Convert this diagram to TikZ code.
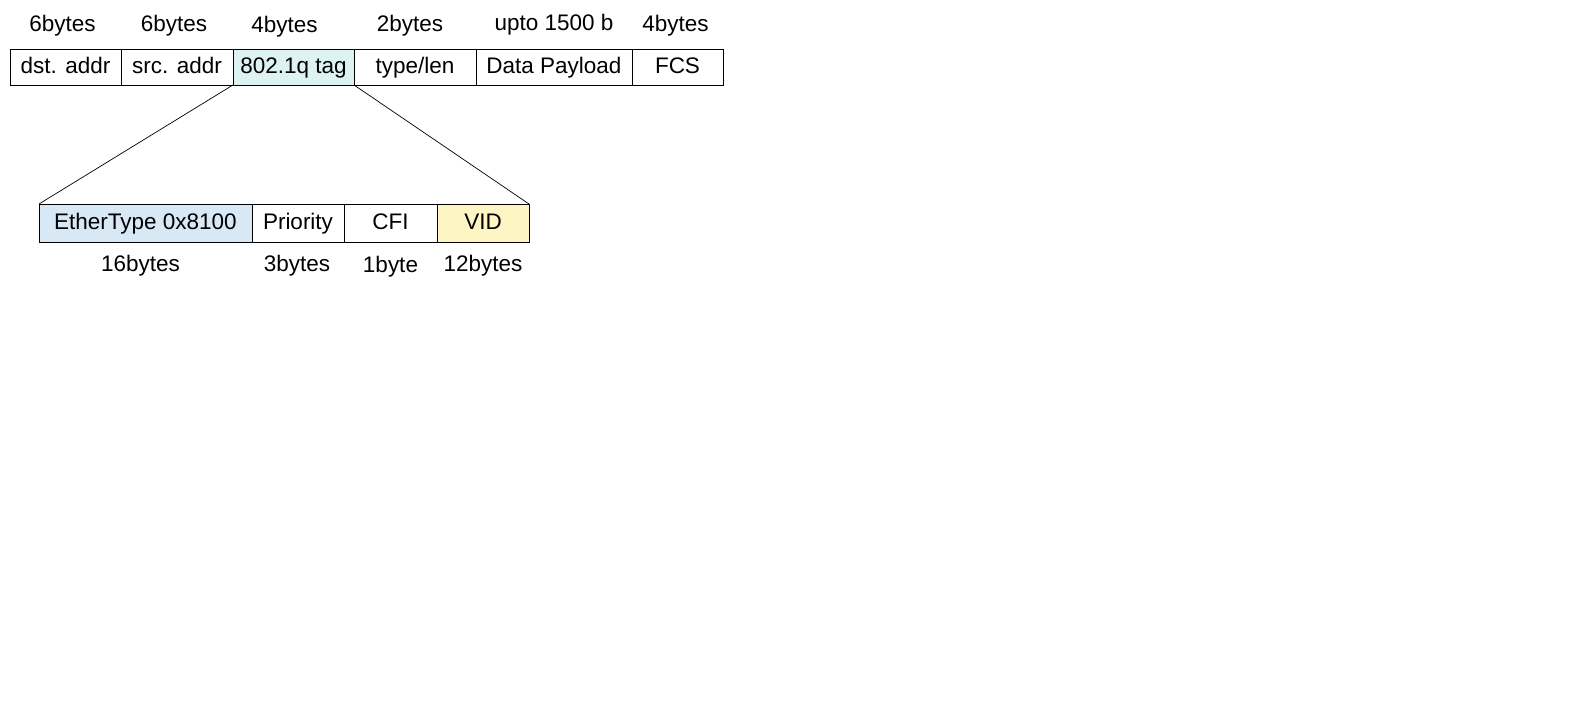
\documentclass[tikz,border=0pt]{standalone}
\usepackage{fontspec}
\setmainfont{Liberation Sans}
\usetikzlibrary{positioning,calc}
\definecolor{tagcyan}{HTML}{DDF2F2}
\definecolor{ethblue}{HTML}{D9E8F5}
\definecolor{vidyellow}{HTML}{FDF5C4}
\tikzset{line width=.6pt,
  every node/.style={font=\fontsize{12.8}{16}\selectfont,text height=.36cm,text depth=.08cm},
  field/.style={draw,outer sep=0pt,inner sep=0pt,minimum height=.72cm},
  subfield/.style={field,minimum height=.76cm},
  size/.style={inner sep=0pt}}

\begin{document}
\begin{tikzpicture}
\path[use as bounding box] (0,0) rectangle (31.66,-14.36);
% frame fields
\node[field,minimum width=2.22cm,anchor=north west] (dst) at (.2,-.98) {dst. addr};
\node[field,minimum width=2.24cm,right=0pt of dst] (src) {src. addr};
\node[field,minimum width=2.42cm,right=0pt of src,fill=tagcyan] (tag) {802.1q tag};
\node[field,minimum width=2.44cm,right=0pt of tag] (type) {type/len};
\node[field,minimum width=3.12cm,right=0pt of type] (data) {Data Payload};
\node[field,minimum width=1.82cm,right=0pt of data] (fcs) {FCS};
\node[size] (dstsize) at ($(dst.north)+(-.06,.48)$) {6bytes};
\node[size] (srcsize) at ($(src.north)+(-.06,.48)$) {6bytes};
\node[size] (tagsize) at ($(tag.north)+(-.18,.46)$) {4bytes};
\node[size] (typesize) at ($(type.north)+(-.1,.48)$) {2bytes};
\node[size] (datasize) at ($(data.north)+(0,.5)$) {upto 1500 b};
\node[size] (fcssize) at ($(fcs.north)+(-.04,.48)$) {4bytes};
% tag fields
\node[subfield,minimum width=4.26cm,anchor=north west,fill=ethblue] (eth) at (.78,-4.08) {EtherType 0x8100};
\node[subfield,minimum width=1.84cm,right=0pt of eth] (prio) {Priority};
\node[subfield,minimum width=1.86cm,right=0pt of prio] (cfi) {CFI};
\node[subfield,minimum width=1.84cm,right=0pt of cfi,fill=vidyellow] (vid) {VID};
\node[size] (ethsize) at ($(eth.south)+(-.1,-.46)$) {16bytes};
\node[size] (priosize) at ($(prio.south)+(-.02,-.46)$) {3bytes};
\node[size] (cfisize) at ($(cfi.south)+(0,-.48)$) {1byte};
\node[size] (vidsize) at ($(vid.south)+(0,-.46)$) {12bytes};
\draw (tag.south west) -- (eth.north west);
\draw (tag.south east) -- (vid.north east);
\end{tikzpicture}
\end{document}
